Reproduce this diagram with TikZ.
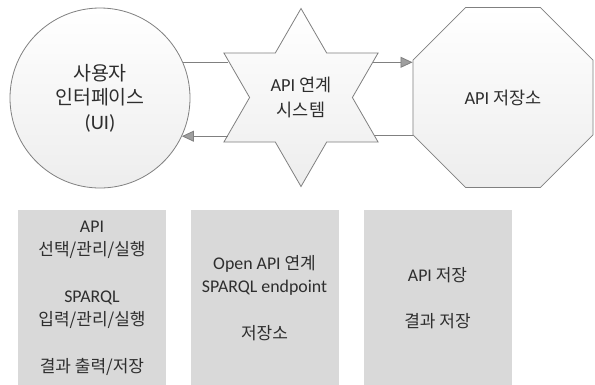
\documentclass[tikz,border=0pt]{standalone}
\usepackage{fontspec}
\setmainfont{Noto Sans CJK KR}
\newfontfamily\la[Scale=1.05]{Carlito}
\usetikzlibrary{shapes.geometric,arrows.meta}
\definecolor{edge}{HTML}{808080}
\definecolor{ink}{HTML}{2E2E2E}
\definecolor{panel}{HTML}{D9D9D9}
\tikzset{
  shapebox/.style={draw=edge, line width=0.8pt, top color=white, bottom color=black!7,
    inner sep=0pt, text=ink, align=center},
  link/.style={draw=edge, line width=0.8pt},
  tip/.style={-{Triangle[length=12pt,width=11pt,fill=gray!75]}},
  panelbox/.style={fill=panel, minimum width=148pt, minimum height=176pt, inner sep=0pt,
    text=ink, align=center, font=\fontsize{17}{23.3}\selectfont}
}
\begin{document}
\begin{tikzpicture}[x=1pt,y=-1pt]
\fill[white] (0,0) rectangle (595,384);
\useasboundingbox (0,0) rectangle (595,384);

% top row: interface, linking system, repository
\node[shapebox, circle, minimum size=180pt, font=\fontsize{19.5}{24.5}\selectfont]
  (ui) at (100,98) {사용자\\인터페이스\\{\la (UI)}};
\node[shapebox, star, star points=6, star point ratio=1.732, minimum size=178pt,
  font=\fontsize{17.5}{25}\selectfont]
  (sys) at (301,97.5) {{\la API} 연계\\시스템};
\node[shapebox, regular polygon, regular polygon sides=8, minimum size=195pt,
  font=\fontsize{17.5}{22}\selectfont]
  (store) at (503,97.5) {{\la API} 저장소};

% connectors
\draw[link] (ui.23.6) -- (ui.23.6 -| sys.153.7);
\draw[link, tip] (ui.-25 -| sys.207.4) -- (ui.-25);
\draw[link, tip] (sys.26.3) -- (sys.26.3 -| store.west);
\draw[link] (sys.-27.4) -- (sys.-27.4 -| store.west);

% bottom row: descriptions
\node[panelbox] (p1) at (92,298)
  {{\la API}\\선택/관리/실행\\[23.3pt]{\la SPARQL}\\입력/관리/실행\\[23.3pt]결과 출력/저장};
\node[panelbox] (p2) at (264.5,298)
  {{\la Open API} 연계\\{\la SPARQL endpoint}\\[23.3pt]저장소};
\node[panelbox] (p3) at (437.5,298)
  {{\la API} 저장\\[23.3pt]결과 저장};
\end{tikzpicture}
\end{document}
